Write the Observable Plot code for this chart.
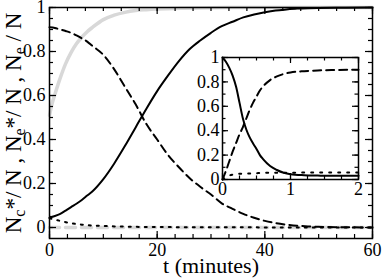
<!DOCTYPE html>
<html><head><meta charset="utf-8">
<script src="https://cdn.jsdelivr.net/npm/d3@7"></script>
<script src="https://cdn.jsdelivr.net/npm/@observablehq/plot@0.6"></script>
<style>
body{margin:0;background:#fff;}
</style></head><body><div id="wrap"></div>
<script>
// ---------- main panel data (t in minutes) ----------
const tMain = [0,1,2,3,4,5,6,7,8,10,12,14,16,18,20,22,24,26,28,30,32,34,36,38,40,42,44,46,48,50,55,60];
const mainSolid = [0.045,0.052,0.062,0.077,0.093,0.108,0.125,0.145,0.165,0.22,0.29,0.37,0.455,0.54,0.62,0.69,0.755,0.81,0.85,0.885,0.915,0.935,0.955,0.968,0.978,0.986,0.991,0.995,0.997,0.998,0.999,1.0];
const mainDashed = [0.91,0.907,0.90,0.893,0.885,0.873,0.86,0.845,0.825,0.785,0.72,0.64,0.56,0.47,0.40,0.33,0.275,0.225,0.185,0.15,0.11,0.085,0.062,0.044,0.03,0.02,0.013,0.008,0.005,0.003,0.001,0.0];
const mainDotted = [0.042,0.036,0.03,0.024,0.019,0.016,0.013,0.011,0.009,0.007,0.005,0.004,0.003,0.0025,0.002,0.0018,0.0015,0.0013,0.0012,0.001,0.0009,0.0008,0.0007,0.0006,0.0005,0.0004,0.0003,0.0002,0.0002,0.0001,0.0,0.0];
const tGray = [0,0.5,1,2,3,4,5,6,7,8,10,12,14,16,18,20,25,30,40,60];
const graySolid = [0.51,0.565,0.605,0.68,0.745,0.795,0.835,0.865,0.89,0.91,0.945,0.965,0.978,0.986,0.99,0.993,0.997,0.999,1.0,1.0];
const tGrayDash = [0,60];
const grayDashed = [0,0];

// ---------- inset data ----------
const tInset = [0,0.05,0.1,0.15,0.2,0.25,0.3,0.35,0.4,0.45,0.5,0.55,0.6,0.7,0.8,0.9,1.0,1.2,1.4,1.6,2.0];
const insetSolid = [1.0,0.965,0.915,0.85,0.76,0.63,0.5,0.41,0.345,0.295,0.25,0.2,0.165,0.11,0.078,0.055,0.043,0.035,0.032,0.03,0.03];
const insetDashed = [0,0.07,0.15,0.23,0.3,0.37,0.43,0.5,0.57,0.63,0.68,0.73,0.765,0.815,0.845,0.865,0.877,0.888,0.894,0.897,0.9];
const insetDotted = [0,0.02,0.033,0.04,0.045,0.047,0.048,0.05,0.05,0.051,0.052,0.053,0.054,0.055,0.055,0.056,0.056,0.057,0.057,0.057,0.057];

// ---------- ticks ----------
const mainXMajor = [0,20,40,60];
const mainYMajor = [0,0.2,0.4,0.6,0.8,1];
const insetXMajor = [0,1,2];
const insetYMajor = [0,0.2,0.4,0.6,0.8,1];
const mainXMinor = d3.range(0, 60.001, 10/3);
const mainYMinor = d3.range(0, 1.0001, 0.05);
const insetXMinor = d3.range(0, 2.0001, 0.25);
const insetYMinor = d3.range(0, 1.0001, 0.1);

const FONT = "Times New Roman, Liberation Serif, Times, serif";

function tickMarks(xMaj, xMin, yMaj, yMin, W, H, maj, min) {
  const sw = 1.2;
  return [
    Plot.tickX(xMin, {x: d => d, insetTop: H - min, strokeWidth: sw}),
    Plot.tickX(xMin, {x: d => d, insetBottom: H - min, strokeWidth: sw}),
    Plot.tickX(xMaj, {x: d => d, insetTop: H - maj, strokeWidth: sw}),
    Plot.tickX(xMaj, {x: d => d, insetBottom: H - maj, strokeWidth: sw}),
    Plot.tickY(yMin, {y: d => d, insetRight: W - min, strokeWidth: sw}),
    Plot.tickY(yMin, {y: d => d, insetLeft: W - min, strokeWidth: sw}),
    Plot.tickY(yMaj, {y: d => d, insetRight: W - maj, strokeWidth: sw}),
    Plot.tickY(yMaj, {y: d => d, insetLeft: W - maj, strokeWidth: sw})
  ];
}

// ---------- main plot ----------
const M = {w: 382, h: 279, l: 49, r: 10, t: 7, b: 41};
const mW = M.w - M.l - M.r, mH = M.h - M.t - M.b;
const main = Plot.plot({
  width: M.w, height: M.h,
  marginLeft: M.l, marginRight: M.r, marginTop: M.t, marginBottom: M.b,
  x: {domain: [0, 60]},
  y: {domain: [-0.05, 1]},
  marks: [
    Plot.line(tGray, {x: tGray, y: graySolid, stroke: "#d8d8d8", strokeWidth: 3.5, curve: "monotone-x"}),
    Plot.line(tGrayDash, {x: tGrayDash, y: grayDashed, stroke: "#d8d8d8", strokeWidth: 3.5, strokeDasharray: "10,6"}),
    Plot.line(tMain, {x: tMain, y: mainDotted, stroke: "black", strokeWidth: 2, strokeDasharray: "2,6", curve: "monotone-x"}),
    Plot.line(tMain, {x: tMain, y: mainDashed, stroke: "black", strokeWidth: 2, strokeDasharray: "8,5", curve: "monotone-x"}),
    Plot.line(tMain, {x: tMain, y: mainSolid, stroke: "black", strokeWidth: 2, curve: "monotone-x"}),
    ...tickMarks(mainXMajor, mainXMinor, mainYMajor, mainYMinor, mW, mH, 7, 4),
    Plot.frame({stroke: "black", strokeWidth: 1.5}),
    Plot.axisX({ticks: mainXMajor, tickSize: 0, tickPadding: 5, tickFormat: d => `${d}`, label: null, fontSize: 18, fontFamily: FONT, fill: "black"}),
    Plot.axisY({ticks: mainYMajor, tickSize: 0, tickPadding: 4, tickFormat: d => `${d}`, label: null, fontSize: 18, fontFamily: FONT, fill: "black"}),
    Plot.text(["t (minutes)"], {frameAnchor: "bottom", dy: 27, lineAnchor: "middle", fontSize: 22, fill: "black", fontFamily: FONT})
  ]
});
main.setAttribute("font-family", FONT);
document.getElementById("wrap").appendChild(main);

// y-axis label with subscripts
const lab = d3.select(main).append("text")
  .attr("transform", "translate(21,123) rotate(-90)")
  .attr("text-anchor", "middle")
  .attr("font-family", FONT)
  .attr("font-size", 23)
  .attr("fill", "black");
const parts = [["N", 0], ["c", 1], ["*/ N , N", 0], ["e", 1], ["*/ N , N", 0], ["e", 1], [" / N", 0]];
let shifted = false;
for (const [txt, sub] of parts) {
  const ts = lab.append("tspan").text(txt);
  if (sub) { ts.attr("font-size", 16).attr("dy", 4); shifted = true; }
  else if (shifted) { ts.attr("dy", -4); shifted = false; }
}

// ---------- inset (drawn by Plot, then placed inside the main SVG) ----------
const I = {w: 182, h: 154, l: 40, r: 6, t: 8, b: 24};
const iW = I.w - I.l - I.r, iH = I.h - I.t - I.b;
const inset = Plot.plot({
  width: I.w, height: I.h,
  marginLeft: I.l, marginRight: I.r, marginTop: I.t, marginBottom: I.b,
  x: {domain: [0, 2]},
  y: {domain: [0, 1]},
  marks: [
    Plot.frame({fill: "white"}),
    Plot.line(tInset, {x: tInset, y: insetDotted, stroke: "black", strokeWidth: 2, strokeDasharray: "2,7", curve: "monotone-x"}),
    Plot.line(tInset, {x: tInset, y: insetDashed, stroke: "black", strokeWidth: 2, strokeDasharray: "8,5", curve: "monotone-x"}),
    Plot.line(tInset, {x: tInset, y: insetSolid, stroke: "black", strokeWidth: 2, curve: "monotone-x"}),
    ...tickMarks(insetXMajor, insetXMinor, insetYMajor, insetYMinor, iW, iH, 6, 3.5),
    Plot.frame({stroke: "black", strokeWidth: 1.5}),
    Plot.axisX({ticks: insetXMajor, tickSize: 0, tickPadding: 3, tickFormat: d => `${d}`, label: null, fontSize: 18, fontFamily: FONT, fill: "black"}),
    Plot.axisY({ticks: insetYMajor, tickSize: 0, tickPadding: 3, tickFormat: d => `${d}`, label: null, fontSize: 18, fontFamily: FONT, fill: "black"})
  ]
});
const holder = d3.select(main).append("g")
  .attr("transform", "translate(182,49)")
  .attr("font-family", FONT)
  .attr("text-anchor", "middle")
  .attr("font-size", 10)
  .node();
for (const child of Array.from(inset.childNodes)) {
  if (child.nodeName.toLowerCase() !== "style") holder.appendChild(child);
}
d3.select(main).selectAll("text").attr("font-family", FONT);
</script>
</body></html>
